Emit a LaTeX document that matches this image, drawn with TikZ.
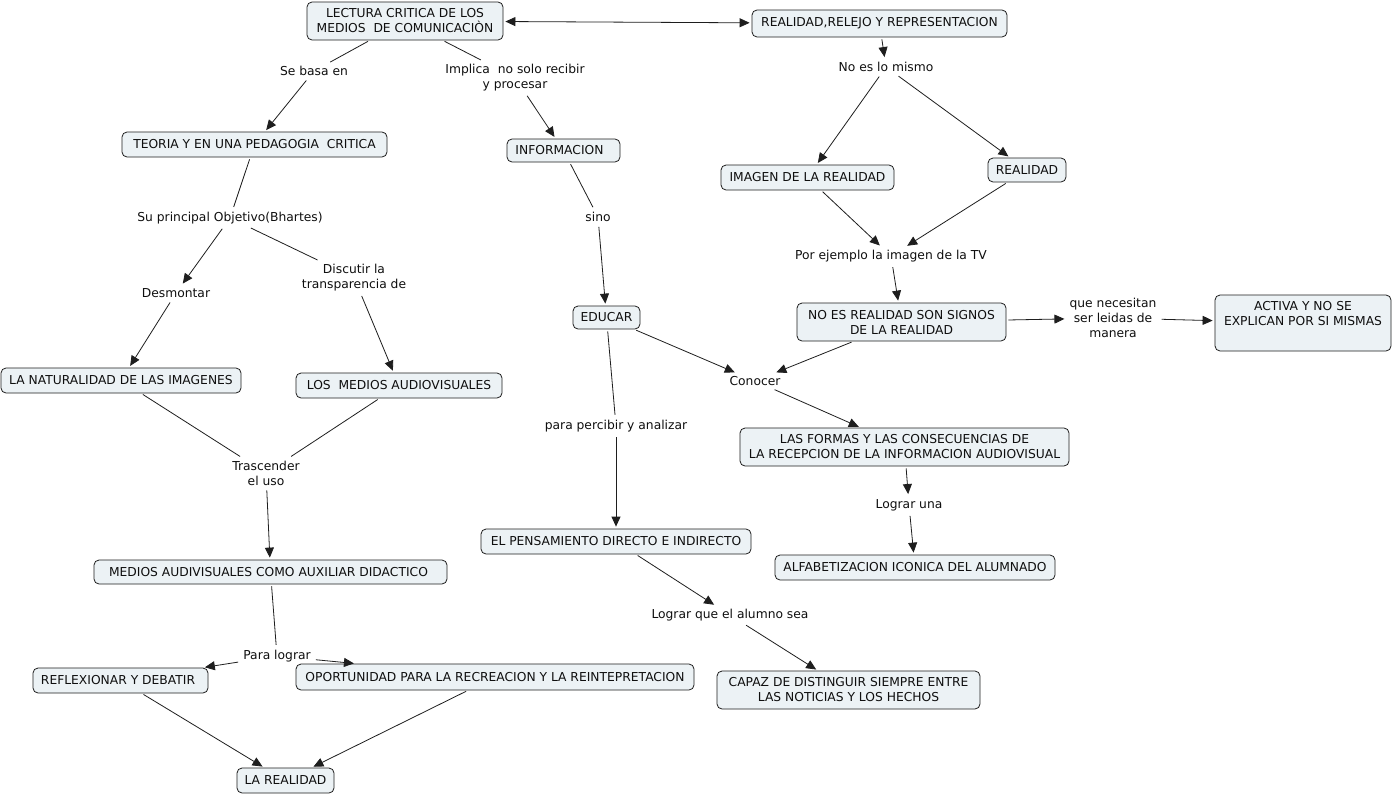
\documentclass[tikz,border=0pt]{standalone}
\usepackage{fontspec}
\setmainfont{DejaVu Sans}
\usetikzlibrary{arrows.meta}
\definecolor{boxfill}{RGB}{236,242,245}
\definecolor{txt}{RGB}{15,15,15}
\definecolor{edge}{RGB}{30,30,30}
\begin{document}
\begin{tikzpicture}[x=1pt,y=-1pt,
  every node/.style={font=\fontsize{12.3}{15}\selectfont, text=txt},
  concept/.style={draw=edge, fill=boxfill, rounded corners=5pt, line width=0.8pt, inner sep=0pt, align=center},
  lnk/.style={inner sep=3pt, align=center},
  ln/.style={draw=edge, line width=0.8pt, shorten <=2pt, shorten >=2pt},
  arr/.style={ln, -{Triangle[length=10pt,width=9pt]}},
  darr/.style={ln, {Triangle[length=10pt,width=9pt]}-{Triangle[length=10pt,width=9pt]}}
]
\useasboundingbox (0,0) rectangle (1394,795);
\fill[white] (0,0) rectangle (1394,795);

% concepts
\node[concept, minimum width=196pt, minimum height=38pt] (lectura) at (405,21) {LECTURA CRITICA DE LOS\\MEDIOS\ \ DE COMUNICACIÒN};
\node[concept, minimum width=255pt, minimum height=27pt] (rrr) at (879.5,23.5) {REALIDAD,RELEJO Y REPRESENTACION};
\node[concept, minimum width=265pt, minimum height=25pt] (teoria) at (254.5,144.5) {TEORIA Y EN UNA PEDAGOGIA\ \ CRITICA};
\node[concept, minimum width=113pt, minimum height=23pt] (info) at (563.5,150.5) {INFORMACION\hspace{8pt}};
\node[concept, minimum width=173pt, minimum height=25pt] (imagen) at (807.5,177.5) {IMAGEN DE LA REALIDAD};
\node[concept, minimum width=78pt, minimum height=24pt] (realidad) at (1027,170) {REALIDAD};
\node[concept, minimum width=209pt, minimum height=38pt] (noesreal) at (901.5,322) {NO ES REALIDAD SON SIGNOS\\DE LA REALIDAD};
\node[concept, minimum width=176pt, minimum height=56pt] (activa) at (1303,323) {ACTIVA Y NO SE\\EXPLICAN POR SI MISMAS\\\strut};
\node[concept, minimum width=67pt, minimum height=23pt] (educar) at (606.5,317.5) {EDUCAR};
\node[concept, minimum width=240pt, minimum height=25pt] (natural) at (121,380.5) {LA NATURALIDAD DE LAS IMAGENES};
\node[concept, minimum width=206pt, minimum height=25pt] (losmedios) at (399,385.5) {LOS\ \ MEDIOS AUDIOVISUALES};
\node[concept, minimum width=329pt, minimum height=38pt] (formas) at (904.5,447) {LAS FORMAS Y LAS CONSECUENCIAS DE\\LA RECEPCION DE LA INFORMACION AUDIOVISUAL};
\node[concept, minimum width=270pt, minimum height=25pt] (pensamiento) at (616,541.5) {EL PENSAMIENTO DIRECTO E INDIRECTO};
\node[concept, minimum width=280pt, minimum height=25pt] (alfa) at (915,567.5) {ALFABETIZACION ICONICA DEL ALUMNADO};
\node[concept, minimum width=353pt, minimum height=24pt] (mediosaux) at (270.5,572) {MEDIOS AUDIVISUALES COMO AUXILIAR DIDACTICO\hspace{4pt}};
\node[concept, minimum width=175pt, minimum height=25pt] (reflex) at (120.5,680.5) {REFLEXIONAR Y DEBATIR\hspace{5pt}};
\node[concept, minimum width=398pt, minimum height=26pt] (oport) at (495,677) {OPORTUNIDAD PARA LA RECREACION Y LA REINTEPRETACION};
\node[concept, minimum width=263pt, minimum height=38pt] (capaz) at (848.5,690) {CAPAZ DE DISTINGUIR SIEMPRE ENTRE\\LAS NOTICIAS Y LOS HECHOS};
\node[concept, minimum width=97pt, minimum height=25pt] (larealidad) at (285.5,780.5) {LA REALIDAD};

% linking phrases
\node[lnk] (sebasa) at (314,71) {Se basa en};
\node[lnk] (implica) at (515,77.5) {Implica\ \ no solo recibir\\y procesar};
\node[lnk] (noeslo) at (886,67) {No es lo mismo};
\node[lnk] (porej) at (891,256) {Por ejemplo la imagen de la TV};
\node[lnk] (quenec) at (1113,318) {que necesitan\\ser leidas de\\manera};
\node[lnk] (conocer) at (755,381) {Conocer};
\node[lnk] (lograruna) at (909,505) {Lograr una};
\node[lnk] (sino) at (598,217) {sino};
\node[lnk] (para) at (616,426) {para percibir y analizar};
\node[lnk] (lograrque) at (730,615) {Lograr que el alumno sea};
\node[lnk] (su) at (230,218) {Su principal Objetivo(Bhartes)};
\node[lnk] (desmontar) at (176,293) {Desmontar};
\node[lnk] (discutir) at (354,277.5) {Discutir la\\transparencia de};
\node[lnk] (trasc) at (266,473) {Trascender\\el uso};
\node[lnk] (paralograr) at (277,656) {Para lograr};

% connectors
\draw[ln] (lectura) -- (sebasa);
\draw[arr] (sebasa) -- (teoria);
\draw[ln] (lectura) -- (implica);
\draw[arr] (implica) -- (info);
\draw[darr] (lectura) -- (rrr);
\draw[arr] (rrr) -- (noeslo);
\draw[arr] (noeslo) -- (imagen);
\draw[arr] (noeslo) -- (realidad);
\draw[arr] (imagen) -- (porej);
\draw[arr] (realidad) -- (porej);
\draw[arr] (porej) -- (noesreal);
\draw[arr] (noesreal) -- (quenec);
\draw[arr] (quenec) -- (activa);
\draw[arr] (noesreal) -- (conocer);
\draw[arr] (educar) -- (conocer);
\draw[arr] (conocer) -- (formas);
\draw[arr] (formas) -- (lograruna);
\draw[arr] (lograruna) -- (alfa);
\draw[ln] (info) -- (sino);
\draw[arr] (sino) -- (educar);
\draw[ln] (educar) -- (para);
\draw[arr] (para) -- (pensamiento);
\draw[arr] (pensamiento) -- (lograrque);
\draw[arr] (lograrque) -- (capaz);
\draw[ln] (teoria) -- (su);
\draw[arr] (su) -- (desmontar);
\draw[ln] (su) -- (discutir);
\draw[arr] (desmontar) -- (natural);
\draw[arr] (discutir) -- (losmedios);
\draw[ln] (natural) -- (trasc);
\draw[ln] (losmedios) -- (trasc);
\draw[arr] (trasc) -- (mediosaux);
\draw[ln] (mediosaux) -- (paralograr);
\draw[arr] (paralograr) -- (reflex);
\draw[arr] (paralograr) -- (oport);
\draw[arr] (reflex) -- (larealidad);
\draw[arr] (oport) -- (larealidad);
\end{tikzpicture}
\end{document}
